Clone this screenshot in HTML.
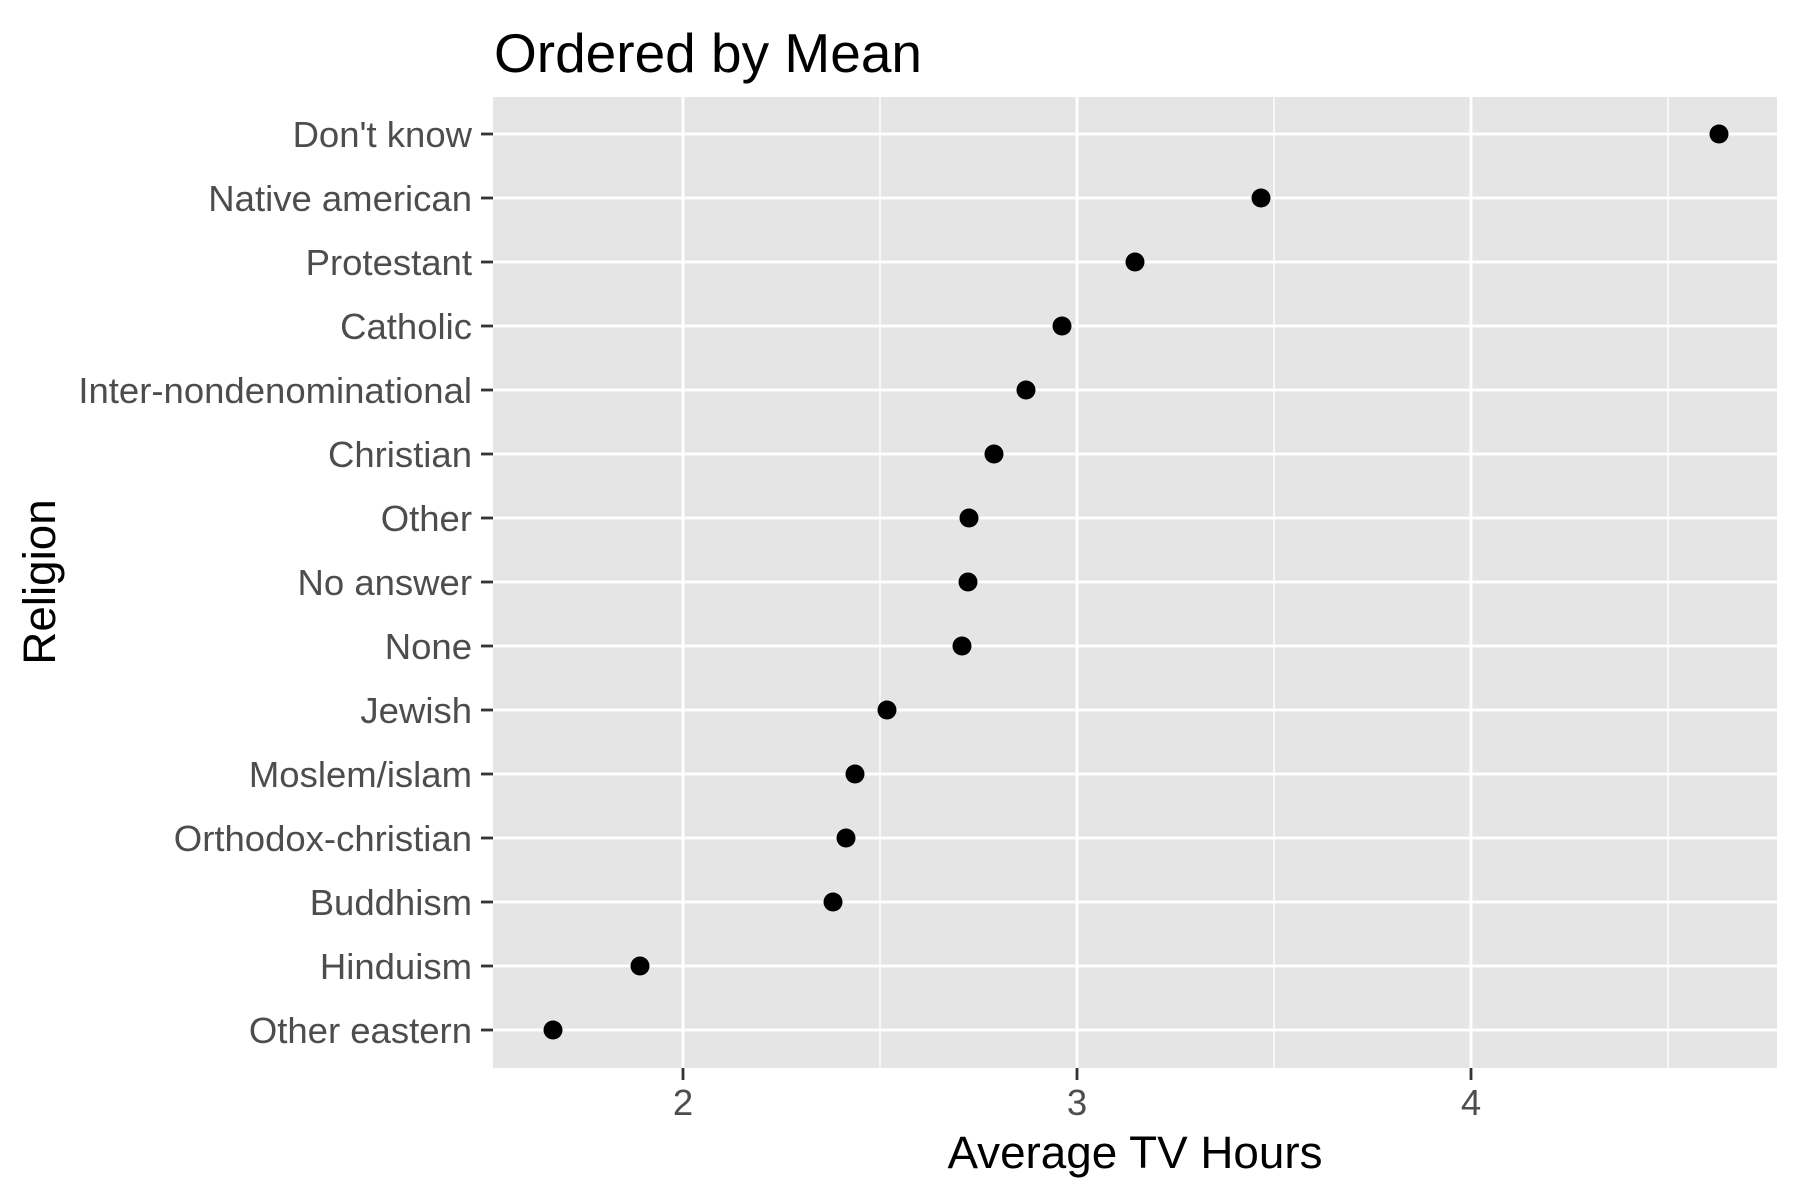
<!DOCTYPE html>
<html><head><meta charset="utf-8"><style>html,body{margin:0;padding:0;background:#fff}svg{display:block}</style></head>
<body>
<svg width="1800" height="1200" viewBox="0 0 1800 1200" xmlns="http://www.w3.org/2000/svg" font-family="Liberation Sans, Arial, sans-serif">
<rect x="0" y="0" width="1800" height="1200" fill="#fff"/>
<rect x="493" y="97" width="1284" height="971" fill="#e5e5e5"/>
<g stroke="#fff" stroke-width="1.4">
<line x1="880" y1="97" x2="880" y2="1068"/>
<line x1="1274" y1="97" x2="1274" y2="1068"/>
<line x1="1668" y1="97" x2="1668" y2="1068"/>
</g>
<g stroke="#fff" stroke-width="2.8">
<line x1="683" y1="97" x2="683" y2="1068"/>
<line x1="1077" y1="97" x2="1077" y2="1068"/>
<line x1="1471" y1="97" x2="1471" y2="1068"/>
</g>
<g stroke="#fff" stroke-width="2.8">
<line x1="493" y1="134" x2="1777" y2="134"/>
<line x1="493" y1="198" x2="1777" y2="198"/>
<line x1="493" y1="262" x2="1777" y2="262"/>
<line x1="493" y1="326" x2="1777" y2="326"/>
<line x1="493" y1="390" x2="1777" y2="390"/>
<line x1="493" y1="454" x2="1777" y2="454"/>
<line x1="493" y1="518" x2="1777" y2="518"/>
<line x1="493" y1="582" x2="1777" y2="582"/>
<line x1="493" y1="646" x2="1777" y2="646"/>
<line x1="493" y1="710" x2="1777" y2="710"/>
<line x1="493" y1="774" x2="1777" y2="774"/>
<line x1="493" y1="838" x2="1777" y2="838"/>
<line x1="493" y1="902" x2="1777" y2="902"/>
<line x1="493" y1="966" x2="1777" y2="966"/>
<line x1="493" y1="1030" x2="1777" y2="1030"/>
</g>
<g stroke="#333" stroke-width="2.8">
<line x1="481" y1="134" x2="493" y2="134"/>
<line x1="481" y1="198" x2="493" y2="198"/>
<line x1="481" y1="262" x2="493" y2="262"/>
<line x1="481" y1="326" x2="493" y2="326"/>
<line x1="481" y1="390" x2="493" y2="390"/>
<line x1="481" y1="454" x2="493" y2="454"/>
<line x1="481" y1="518" x2="493" y2="518"/>
<line x1="481" y1="582" x2="493" y2="582"/>
<line x1="481" y1="646" x2="493" y2="646"/>
<line x1="481" y1="710" x2="493" y2="710"/>
<line x1="481" y1="774" x2="493" y2="774"/>
<line x1="481" y1="838" x2="493" y2="838"/>
<line x1="481" y1="902" x2="493" y2="902"/>
<line x1="481" y1="966" x2="493" y2="966"/>
<line x1="481" y1="1030" x2="493" y2="1030"/>
<line x1="683" y1="1068" x2="683" y2="1080"/>
<line x1="1077" y1="1068" x2="1077" y2="1080"/>
<line x1="1471" y1="1068" x2="1471" y2="1080"/>
</g>
<g fill="#4d4d4d" font-size="36.5" text-anchor="end">
<text x="472" y="147">Don't know</text>
<text x="472" y="211">Native american</text>
<text x="472" y="275">Protestant</text>
<text x="472" y="339">Catholic</text>
<text x="472" y="403">Inter-nondenominational</text>
<text x="472" y="467">Christian</text>
<text x="472" y="531">Other</text>
<text x="472" y="595">No answer</text>
<text x="472" y="659">None</text>
<text x="472" y="723">Jewish</text>
<text x="472" y="787">Moslem/islam</text>
<text x="472" y="851">Orthodox-christian</text>
<text x="472" y="915">Buddhism</text>
<text x="472" y="979">Hinduism</text>
<text x="472" y="1043">Other eastern</text>
</g>
<g fill="#4d4d4d" font-size="36.5" text-anchor="middle">
<text x="683" y="1115">2</text>
<text x="1077" y="1115">3</text>
<text x="1471" y="1115">4</text>
</g>
<g fill="#000">
<circle cx="1719" cy="134" r="9.5"/>
<circle cx="1261" cy="198" r="9.5"/>
<circle cx="1135" cy="262" r="9.5"/>
<circle cx="1062" cy="326" r="9.5"/>
<circle cx="1026" cy="390" r="9.5"/>
<circle cx="994" cy="454" r="9.5"/>
<circle cx="969" cy="518" r="9.5"/>
<circle cx="968" cy="582" r="9.5"/>
<circle cx="962" cy="646" r="9.5"/>
<circle cx="887" cy="710" r="9.5"/>
<circle cx="855" cy="774" r="9.5"/>
<circle cx="846" cy="838" r="9.5"/>
<circle cx="833" cy="902" r="9.5"/>
<circle cx="640" cy="966" r="9.5"/>
<circle cx="553" cy="1030" r="9.5"/>
</g>
<text x="1135" y="1168" font-size="45.8" text-anchor="middle" fill="#000">Average TV Hours</text>
<text transform="translate(55,582) rotate(-90)" font-size="45.8" text-anchor="middle" fill="#000">Religion</text>
<text x="494" y="72" font-size="55" fill="#000">Ordered by Mean</text>
</svg>
</body></html>
